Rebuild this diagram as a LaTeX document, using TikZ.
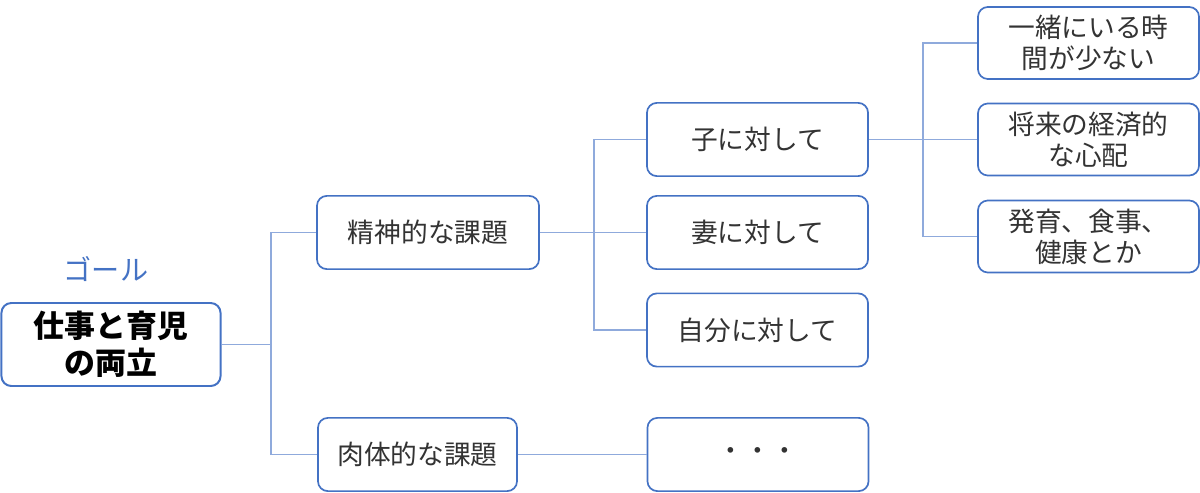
\documentclass[tikz,border=0pt]{standalone}
\usepackage{fontspec}
\setmainfont{Noto Sans CJK JP}
\usetikzlibrary{positioning}
\definecolor{boxblue}{HTML}{4472C4}
\definecolor{lineblue}{HTML}{8FAADC}
\tikzset{
    box/.style =    {rectangle,
                    rounded corners=7pt,
                    fill=white,
                    draw=boxblue,
                    text=black!80,
                    line width=1.2pt,
                    align=center,
                    inner sep=0pt,
                    minimum width=5.525cm,
                    minimum height=1.83cm,
                    font=\fontsize{19}{22}\selectfont},
    goal/.style =   {box,
                    line width=1.4pt,
                    text=black,
                    minimum width=5.475cm,
                    minimum height=2.075cm,
                    font=\fontsize{22}{26}\selectfont\bfseries},
    tag/.style =    {text=boxblue,
                    inner sep=0pt,
                    font=\fontsize{20}{24}\selectfont},
    link/.style =   {draw=lineblue,
                    line width=0.9pt}
}
\begin{document}
\begin{tikzpicture}[x=0.025cm,y=-0.025cm]
                \useasboundingbox (0,0) rectangle (1200,492);
                % goal
                \node[goal]   (root)     at (111,344.5)  {仕事と育児\\の両立};
                \node[tag]    (label)    at (106,269)    {ゴール};
                % level 1
                \node[box,minimum width=5.55cm]   (mental)   at (428,232.5)  {精神的な課題};
                \node[box,minimum width=4.975cm]  (physical) at (417.5,454.5) {肉体的な課題};
                % level 2
                \node[box]    (child)    at (757.5,139.5) {子に対して};
                \node[box]    (wife)     at (757.5,232.5) {妻に対して};
                \node[box]    (self)     at (757.5,330)   {自分に対して};
                \node[box]    (etc)      at (758,454.5)   {・・・};
                % level 3
                \node[box,minimum height=1.8cm]  (time)    at (1088.5,43)    {一緒にいる時\\間が少ない};
                \node[box,minimum height=1.8cm]  (money)   at (1088.5,139.5) {将来の経済的\\な心配};
                \node[box,minimum height=1.8cm]  (growth)  at (1088.5,236.5) {発育、食事、\\健康とか};

                \coordinate (j1) at (271,344.5);
                \coordinate (j2) at (594,232.5);
                \coordinate (j3) at (923,139.5);

                \path [link]  (root) -- (j1)
                              (j1) |- (mental)
                              (j1) |- (physical)
                              (mental) -- (wife)
                              (j2) |- (child)
                              (j2) |- (self)
                              (physical) -- (etc)
                              (child) -- (money)
                              (j3) |- (time)
                              (j3) |- (growth);
        \end{tikzpicture}
\end{document}
